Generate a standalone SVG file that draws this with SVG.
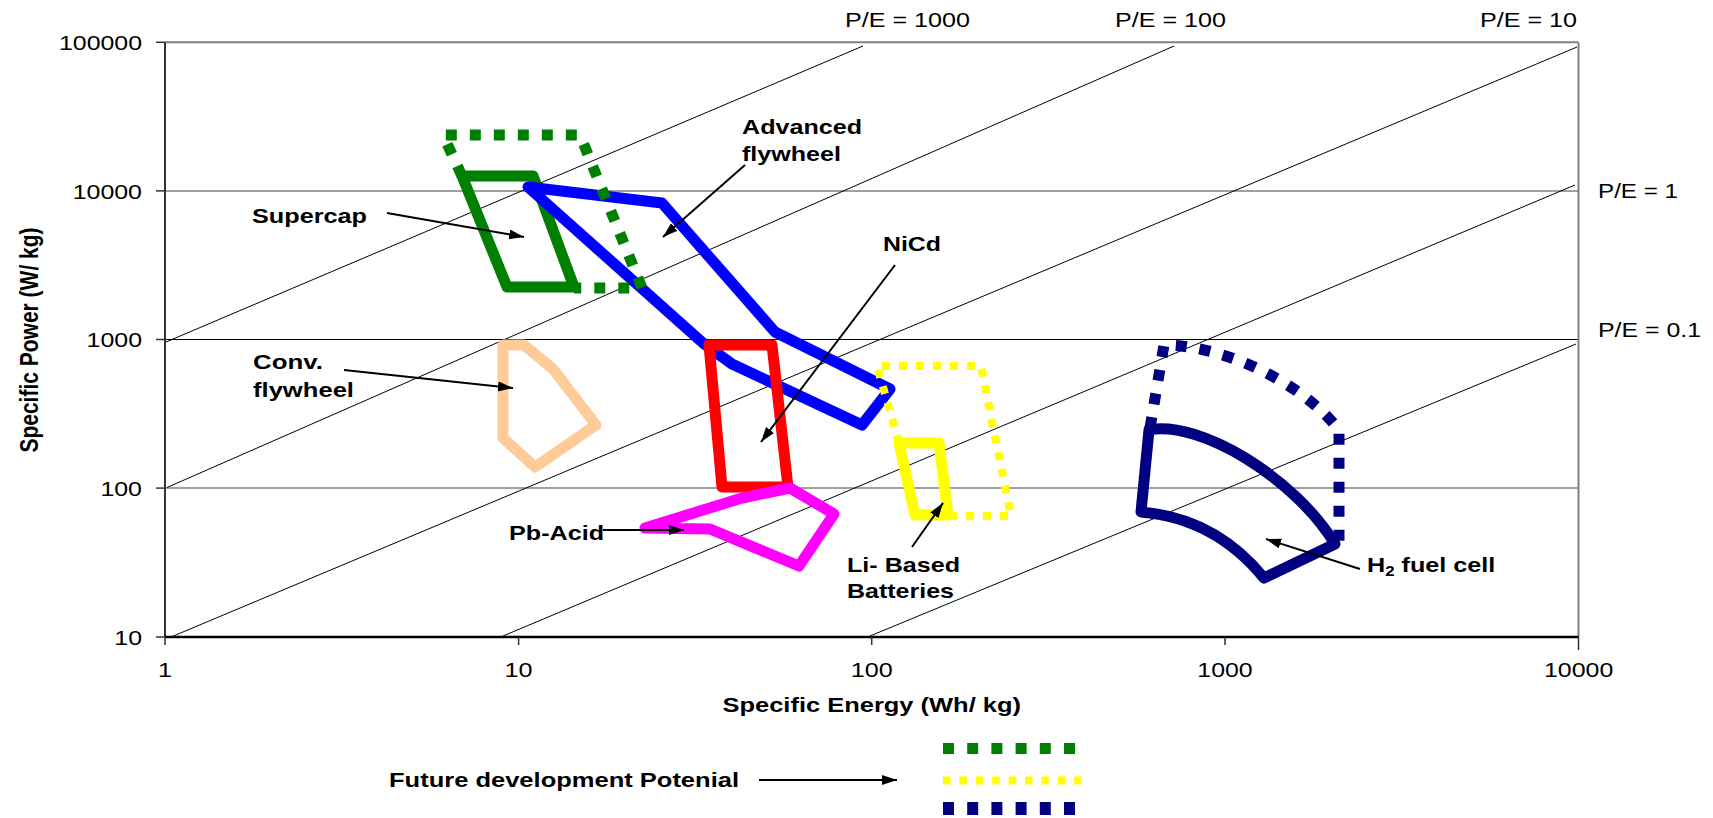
<svg xmlns="http://www.w3.org/2000/svg" width="1713" height="818" viewBox="0 0 1713 818">
<style>
.t{font-family:"Liberation Sans",Arial,sans-serif;font-size:21px;fill:#000}
.b{font-weight:bold}
.pe{stroke:#000;stroke-width:1;fill:none}
.shape{fill:none;stroke-width:11;stroke-linejoin:round}
.dot{fill:none;stroke-width:11;stroke-dasharray:11 13}
.arr{stroke:#000;stroke-width:2;fill:none;marker-end:url(#ah)}
</style>
<defs>
<marker id="ah" markerWidth="16" markerHeight="12" refX="15" refY="5" orient="auto" markerUnits="userSpaceOnUse"><path d="M0,0 L15,5 L0,10 Z" fill="#000"/></marker>
</defs>
<rect width="1713" height="818" fill="#fff"/>
<g id="axes">
<line x1="165" y1="190.9" x2="1578.5" y2="190.9" stroke="#808080" stroke-width="1.5"/>
<line x1="165" y1="339.5" x2="1578.5" y2="339.5" stroke="#000" stroke-width="1"/>
<line x1="165" y1="488.1" x2="1578.5" y2="488.1" stroke="#808080" stroke-width="1.5"/>
<line x1="165" y1="42.3" x2="1578.5" y2="42.3" stroke="#808080" stroke-width="2"/>
<line x1="1578.5" y1="42.3" x2="1578.5" y2="637" stroke="#808080" stroke-width="2"/>
<line x1="165" y1="42.3" x2="165" y2="637" stroke="#333" stroke-width="2"/>
<line x1="165" y1="637" x2="1578.5" y2="637" stroke="#000" stroke-width="2.5"/>
<g stroke="#333" stroke-width="1.5">
<line x1="156" y1="42.3" x2="165" y2="42.3"/><line x1="156" y1="190.9" x2="165" y2="190.9"/><line x1="156" y1="339.5" x2="165" y2="339.5"/><line x1="156" y1="488.1" x2="165" y2="488.1"/><line x1="156" y1="637" x2="165" y2="637"/>
<line x1="165" y1="637" x2="165" y2="645"/><line x1="518.6" y1="637" x2="518.6" y2="645"/><line x1="871.7" y1="637" x2="871.7" y2="645"/><line x1="1225" y1="637" x2="1225" y2="645"/><line x1="1578.5" y1="637" x2="1578.5" y2="650"/>
</g>
<text class="t" x="59" y="50" textLength="83" lengthAdjust="spacingAndGlyphs">100000</text>
<text class="t" x="72.7" y="199" textLength="69.3" lengthAdjust="spacingAndGlyphs">10000</text>
<text class="t" x="86.6" y="347" textLength="55.4" lengthAdjust="spacingAndGlyphs">1000</text>
<text class="t" x="100.4" y="496" textLength="41.6" lengthAdjust="spacingAndGlyphs">100</text>
<text class="t" x="114.3" y="644.5" textLength="27.7" lengthAdjust="spacingAndGlyphs">10</text>
<text class="t" x="158" y="677" textLength="14" lengthAdjust="spacingAndGlyphs">1</text>
<text class="t" x="504.6" y="677" textLength="28" lengthAdjust="spacingAndGlyphs">10</text>
<text class="t" x="850.7" y="677" textLength="42" lengthAdjust="spacingAndGlyphs">100</text>
<text class="t" x="1197.3" y="677" textLength="55.4" lengthAdjust="spacingAndGlyphs">1000</text>
<text class="t" x="1544" y="677" textLength="69.3" lengthAdjust="spacingAndGlyphs">10000</text>
<text class="t b" x="722.5" y="712" textLength="298.5" lengthAdjust="spacingAndGlyphs">Specific Energy (Wh/ kg)</text>
<text class="t b" text-anchor="middle" transform="translate(37.5,340) rotate(-90) scale(1,1.2)">Specific Power (W/ kg)</text>
</g>
<g id="pe-lines">
<line class="pe" x1="166" y1="342" x2="863" y2="46"/>
<line class="pe" x1="167" y1="487.5" x2="1174" y2="46"/>
<line class="pe" x1="171" y1="637" x2="1577" y2="47"/>
<line class="pe" x1="503" y1="636" x2="1575" y2="185"/>
<line class="pe" x1="870" y1="636" x2="1576" y2="344"/>
<text class="t" x="845" y="27" textLength="125" lengthAdjust="spacingAndGlyphs">P/E = 1000</text>
<text class="t" x="1115" y="27" textLength="111" lengthAdjust="spacingAndGlyphs">P/E = 100</text>
<text class="t" x="1480" y="27" textLength="97" lengthAdjust="spacingAndGlyphs">P/E = 10</text>
<text class="t" x="1598" y="198" textLength="80" lengthAdjust="spacingAndGlyphs">P/E = 1</text>
<text class="t" x="1598" y="337" textLength="103" lengthAdjust="spacingAndGlyphs">P/E = 0.1</text>
</g>
<g id="supercap">
<polygon class="shape" stroke="#008000" stroke-width="12" points="462,176 533,176 574,287 507,287"/>
<text class="t b" x="252" y="223" textLength="115" lengthAdjust="spacingAndGlyphs">Supercap</text>
</g>
<g id="advanced-flywheel">
<polygon class="shape" stroke="#0000FF" stroke-width="11" points="528,187 662,203 775,332 890,389 862,425 732,364 703,343"/>
<text class="t b" x="742" y="134" textLength="120" lengthAdjust="spacingAndGlyphs">Advanced</text>
<text class="t b" x="742" y="161" textLength="99" lengthAdjust="spacingAndGlyphs">flywheel</text>
</g>
<g id="supercap-future">
<polyline class="dot" stroke="#008000" points="462,176 443,135 580,135 642,288 574,288"/>
</g>
<g id="nicd">
<polygon class="shape" stroke="#FF0000" stroke-width="12" points="709,345 772,345 788,487 722,487"/>
<text class="t b" x="883" y="251" textLength="58" lengthAdjust="spacingAndGlyphs">NiCd</text>
</g>
<g id="pb-acid">
<polygon class="shape" stroke="#FF00FF" points="645,528 710,529 799,566 834,514 790,488 742,498"/>
<text class="t b" x="509" y="540" textLength="95" lengthAdjust="spacingAndGlyphs">Pb-Acid</text>
</g>
<g id="conv-flywheel">
<polygon class="shape" stroke="#FFCC99" points="503,345 524,345 553,369 596,425 535,467 503,438"/>
<text class="t b" x="253" y="369" textLength="70" lengthAdjust="spacingAndGlyphs">Conv.</text>
<text class="t b" x="253" y="397" textLength="101" lengthAdjust="spacingAndGlyphs">flywheel</text>
</g>
<g id="li-based">
<polyline fill="none" stroke="#FFFF00" stroke-width="8" stroke-dasharray="8 9" points="899,443 877,366 981,366 1011,516 948,516"/>
<polygon class="shape" stroke="#FFFF00" stroke-width="9" points="899,443 939,443 948,515 915,515"/>
<text class="t b" x="847" y="572" textLength="113" lengthAdjust="spacingAndGlyphs">Li- Based</text>
<text class="t b" x="847" y="598" textLength="107" lengthAdjust="spacingAndGlyphs">Batteries</text>
</g>
<g id="h2-fuel-cell">
<path class="dot" stroke="#000080" stroke-dasharray="12 13" d="M1150,428 L1164,345 C1220,345 1300,380 1339,430 L1339,546"/>
<path class="shape" stroke="#000080" d="M1149,430 C1200,420 1295,478 1335,544 L1264,578 Q1215,518 1141,512 Z"/>
<text class="t b" transform="translate(1367,572) scale(1.2,1)">H<tspan font-size="14" dy="4">2</tspan><tspan dy="-4"> fuel cell</tspan></text>
</g>
<g id="legend">
<line x1="943" y1="748.5" x2="1076" y2="748.5" stroke="#008000" stroke-width="11" stroke-dasharray="11 13.2"/>
<line x1="943" y1="780.5" x2="1083" y2="780.5" stroke="#FFFF00" stroke-width="8" stroke-dasharray="7.5 8.9"/>
<line x1="943" y1="808.5" x2="1076" y2="808.5" stroke="#000080" stroke-width="13" stroke-dasharray="11 13.2"/>
<text class="t b" x="389" y="787" textLength="350" lengthAdjust="spacingAndGlyphs">Future development Potenial</text>
</g>
<g id="connectors">
<line class="arr" x1="387" y1="213" x2="524" y2="237"/>
<line class="arr" x1="745" y1="165" x2="663" y2="237"/>
<line class="arr" x1="895" y1="265" x2="761" y2="442"/>
<line class="arr" x1="344" y1="370" x2="513" y2="388"/>
<line class="arr" x1="603" y1="530" x2="684" y2="530"/>
<line class="arr" x1="912" y1="547" x2="943" y2="503"/>
<line class="arr" x1="1360" y1="569" x2="1266" y2="539"/>
<line class="arr" x1="759" y1="780" x2="897" y2="780"/>
</g>
</svg>
